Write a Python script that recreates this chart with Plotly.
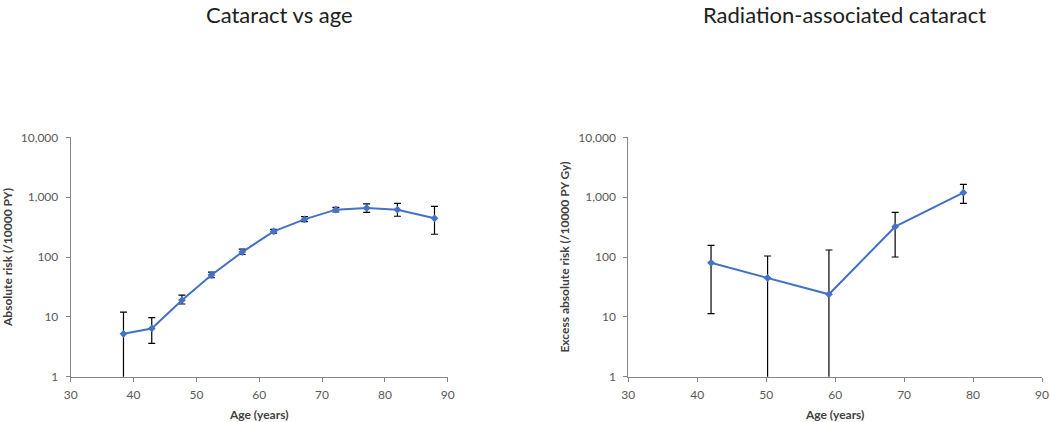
import plotly.graph_objects as go
from plotly.subplots import make_subplots

# Left panel: cataract vs age
age_left = [38.4, 42.9, 47.7, 52.4, 57.3, 62.3, 67.2, 72.2, 77.1, 82.0, 87.9]
risk_left = [5.2, 6.4, 19, 50, 121, 268, 425, 618, 659, 618, 443]
upper_left = [12, 9.7, 23, 56, 135, 290, 472, 677, 770, 788, 703]
lower_left = [0.5, 3.6, 16.4, 45, 110, 250, 390, 565, 558, 480, 240]

# Right panel: radiation-associated cataract
age_right = [42.0, 50.2, 59.1, 68.7, 78.6]
risk_right = [80, 44.6, 23.8, 321, 1190]
upper_right = [157, 104, 131, 558, 1637]
lower_right = [11.3, 0.5, 0.5, 100, 788]

titles = ["Cataract vs age", "Radiation-associated cataract"]
ytitles = ["Absolute risk (/10000 PY)", "Excess absolute risk (/10000 PY Gy)"]
xtitle = "Age (years)"
ytickvals = [1, 10, 100, 1000, 10000]
yticktext = ["1", "10", "100", "1,000", "10,000"]
xtickvals = [30, 40, 50, 60, 70, 80, 90]

BLUE = "#4472C4"
AXIS = "#868686"
TICKC = "#595959"
FONT = "Lato, Open Sans, sans-serif"

fig = make_subplots(rows=1, cols=2)

def add(x, y, up, lo, col):
    fig.add_trace(go.Scatter(
        x=x, y=y, mode="lines+markers",
        line=dict(color=BLUE, width=2),
        marker=dict(symbol="diamond", size=6, color=BLUE),
        error_y=dict(type="data", symmetric=False,
                     array=[u - v for u, v in zip(up, y)],
                     arrayminus=[v - l for v, l in zip(y, lo)],
                     color="black", thickness=1.2, width=3.5),
        showlegend=False), row=1, col=col)

add(age_left, risk_left, upper_left, lower_left, 1)
add(age_right, risk_right, upper_right, lower_right, 2)

W, H = 1050, 422
dom_left = [70.7 / W, 447.7 / W]
dom_right = [628.3 / W, 1042.0 / W]
ydom = [1 - 376.7 / H, 1 - 137.3 / H]
ystand = [6, 6]

for i, dom in enumerate([dom_left, dom_right], start=1):
    fig.update_xaxes(domain=dom, range=[30, 90], tickvals=xtickvals,
                     automargin=False,
                     showline=True, linecolor=AXIS, linewidth=1,
                     ticks="outside", tickcolor=AXIS, ticklen=4,
                     ticklabelstandoff=3,
                     showgrid=False, zeroline=False,
                     tickfont=dict(size=12, color=TICKC, family=FONT),
                     title=dict(text="<b>" + xtitle + "</b>", standoff=10,
                                font=dict(size=12, color="#404040", family=FONT)),
                     row=1, col=i)
    fig.update_yaxes(domain=ydom, type="log", range=[0, 4],
                     automargin=False,
                     tickvals=ytickvals, ticktext=yticktext,
                     showline=True, linecolor=AXIS, linewidth=1,
                     ticks="outside", tickcolor=AXIS, ticklen=4,
                     ticklabelstandoff=5,
                     showgrid=False, zeroline=False,
                     tickfont=dict(size=12, color=TICKC, family=FONT),
                     title=dict(text="<b>" + ytitles[i - 1] + "</b>", standoff=ystand[i - 1],
                                font=dict(size=12, color="#404040", family=FONT)),
                     row=1, col=i)

fig.add_annotation(text=titles[0], x=279 / W, y=1 - 14.5 / H,
                   xref="paper", yref="paper",
                   showarrow=False, xanchor="center", yanchor="middle",
                   font=dict(size=22, color="#202020", family=FONT))
fig.add_annotation(text=titles[1], x=844 / W, y=1 - 14.5 / H,
                   xref="paper", yref="paper",
                   showarrow=False, xanchor="center", yanchor="middle",
                   font=dict(size=22, color="#202020", family=FONT))

fig.update_layout(width=W, height=H, margin=dict(l=0, r=0, t=0, b=0),
                  paper_bgcolor="white", plot_bgcolor="white",
                  font=dict(family=FONT))

# remove the browser's default 8px body margin so the figure fills the window
fig.write_html("out.html",
               config={"displayModeBar": False},
               post_script="document.body.style.margin='0';document.body.style.overflow='hidden';")
